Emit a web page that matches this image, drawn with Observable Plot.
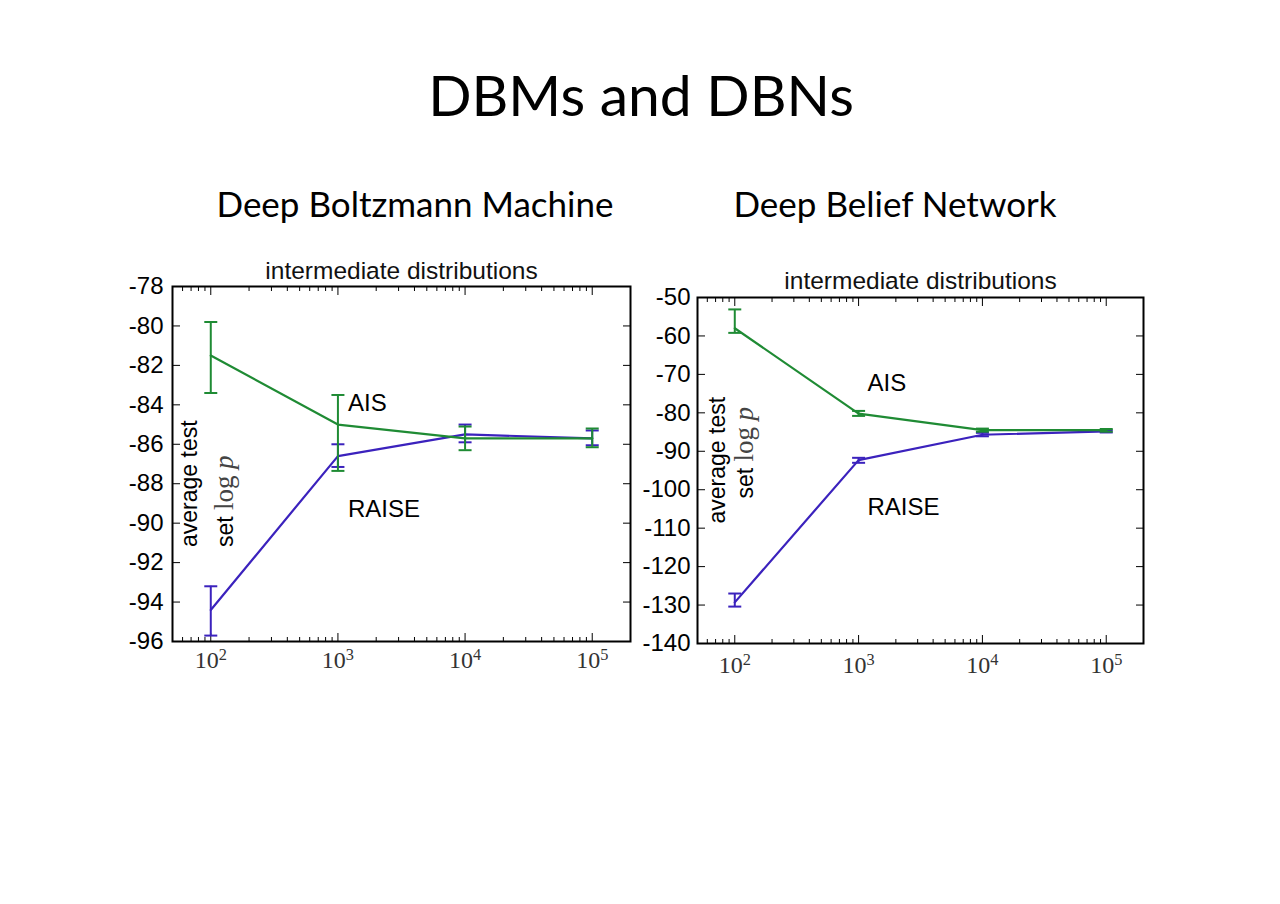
<!DOCTYPE html>
<html><head><meta charset="utf-8">
<script src="https://cdn.jsdelivr.net/npm/d3@7"></script>
<script src="https://cdn.jsdelivr.net/npm/@observablehq/plot@0.6"></script>
<style>
html,body{margin:0;padding:0;background:#fff;}
#page{position:relative;width:1280px;height:904px;overflow:hidden;background:#fff;}
.t{position:absolute;font-family:Lato,"Open Sans",sans-serif;color:#000;white-space:nowrap;transform:translateX(-50%);line-height:1;}
.chart{position:absolute;}
</style></head><body>
<div id="page">
  <div class="t" style="left:641px;top:66px;font-size:57px;">DBMs and DBNs</div>
  <div class="t" style="left:415px;top:186px;font-size:35px;">Deep Boltzmann Machine</div>
  <div class="t" style="left:895px;top:186px;font-size:35px;">Deep Belief Network</div>
  <div class="chart" id="c1" style="left:100px;top:240px;"></div>
  <div class="chart" id="c2" style="left:630px;top:250px;"></div>
</div>
<script>
// ---------- data ----------
const xValues = [100, 1000, 10000, 100000];
const xTickLabels = ["10²", "10³", "10⁴", "10⁵"];
const seriesNames = ["AIS", "RAISE"];

// Deep Boltzmann Machine
const dbmAIS      = [-81.5, -85.0, -85.7, -85.7];
const dbmAISLo    = [-83.4, -87.35, -86.3, -86.15];
const dbmAISHi    = [-79.8, -83.5, -85.1, -85.2];
const dbmRAISE    = [-94.4, -86.6, -85.5, -85.7];
const dbmRAISELo  = [-95.7, -87.15, -85.9, -86.05];
const dbmRAISEHi  = [-93.2, -86.0, -85.0, -85.3];
const dbmYTicks   = [-78, -80, -82, -84, -86, -88, -90, -92, -94, -96];

// Deep Belief Network
const dbnAIS      = [-58.0, -80.2, -84.5, -84.5];
const dbnAISLo    = [-59.2, -80.8, -84.9, -84.9];
const dbnAISHi    = [-53.1, -79.5, -84.1, -84.2];
const dbnRAISE    = [-129.3, -92.3, -85.7, -84.8];
const dbnRAISELo  = [-130.4, -93.0, -86.1, -85.1];
const dbnRAISEHi  = [-127.0, -91.7, -85.2, -84.5];
const dbnYTicks   = [-50, -60, -70, -80, -90, -100, -110, -120, -130, -140];

const panelTitle = "intermediate distributions";
const yLabelLine1 = "average test";
const yLabelLine2 = "set log p";

const dbmLabels = [{text: "AIS", x: 1200, y: -83.9}, {text: "RAISE", x: 1200, y: -89.3}];
const dbnLabels = [{text: "AIS", x: 1180, y: -72.4}, {text: "RAISE", x: 1180, y: -104.7}];

const colors = {AIS: "#1f8b34", RAISE: "#3b22bd"};
const sans = "Liberation Sans, Arial, Helvetica, sans-serif";
const serif = "Liberation Serif, DejaVu Serif, serif";

function rows(mean, lo, hi, series) {
  return xValues.map((x, i) => ({x, mean: mean[i], lo: lo[i], hi: hi[i], series}));
}

const capSymbol = {
  draw(context, size) {
    const r = Math.sqrt(size / Math.PI);
    context.moveTo(-r, 0);
    context.lineTo(r, 0);
  }
};

function buildChart(cfg) {
  const minor = d3.scaleLog().domain(cfg.xDomain).ticks().filter(v => !xValues.includes(v));
  const fmtX = d => xTickLabels[xValues.indexOf(d)];
  const seriesMarks = [];
  for (const s of cfg.series) {
    const c = colors[s.name];
    seriesMarks.push(
      Plot.line(s.data, {x: "x", y: "mean", stroke: c, strokeWidth: 2.2}),
      Plot.ruleX(s.data, {x: "x", y1: "lo", y2: "hi", stroke: c, strokeWidth: 2}),
      Plot.dot(s.data, {x: "x", y: "lo", r: 6.5, symbol: capSymbol, stroke: c, strokeWidth: 2, fill: "none"}),
      Plot.dot(s.data, {x: "x", y: "hi", r: 6.5, symbol: capSymbol, stroke: c, strokeWidth: 2, fill: "none"})
    );
  }
  const svg = Plot.plot({
    width: cfg.width, height: cfg.height,
    marginLeft: cfg.ml, marginRight: cfg.mr, marginTop: cfg.mt, marginBottom: cfg.mb,
    style: {background: "transparent", overflow: "visible"},
    x: {type: "log", domain: cfg.xDomain, label: null},
    y: {domain: cfg.yDomain, label: null},
    marks: [
      // ticks (inward)
      Plot.axisX(xValues, {anchor: "bottom", tickSize: -8, tickFormat: () => "", label: null, stroke: "#000"}),
      Plot.axisX(xValues, {anchor: "top", tickSize: -8, tickFormat: () => "", label: null, stroke: "#000"}),
      Plot.axisX(minor, {anchor: "bottom", tickSize: -4, tickFormat: () => "", label: null, stroke: "#000"}),
      Plot.axisX(minor, {anchor: "top", tickSize: -4, tickFormat: () => "", label: null, stroke: "#000"}),
      Plot.axisY(cfg.yTicks, {anchor: "left", tickSize: -8, tickFormat: () => "", label: null, stroke: "#000"}),
      Plot.axisY(cfg.yTicks, {anchor: "right", tickSize: -8, tickFormat: () => "", label: null, stroke: "#000"}),
      // tick labels
      Plot.axisX(xValues, {anchor: "bottom", tickSize: 0, tickPadding: cfg.xPad, tickFormat: fmtX, label: null,
        fontSize: 24, fontFamily: serif, fill: "#333"}),
      Plot.axisY(cfg.yTicks, {anchor: "left", tickSize: 0, tickPadding: cfg.yPad, tickFormat: d => String(d), label: null,
        fontSize: 24, fontFamily: sans, fill: "#000"}),
      ...seriesMarks,
      Plot.frame({stroke: "#000", strokeWidth: 2}),
      // panel title
      Plot.text([panelTitle], {frameAnchor: "top", lineAnchor: "middle", dy: cfg.titleDy, text: d => d,
        fontSize: 24.5, fontFamily: sans, fill: "#111"}),
      // y label
      Plot.text([yLabelLine1], {frameAnchor: "left", lineAnchor: "middle", rotate: -90, textAnchor: "start", dx: cfg.yl1dx, dy: cfg.yl1dy,
        text: d => d, fontSize: 23, fontFamily: sans, fill: "#000"}),
      Plot.text([yLabelLine2], {frameAnchor: "left", lineAnchor: "middle", rotate: -90, textAnchor: "start", dx: cfg.yl2dx, dy: cfg.yl2dy,
        text: d => d, fontSize: 23, fontFamily: sans, fill: "#000"}),
      // series labels
      Plot.text(cfg.labels, {x: "x", y: "y", text: "text", textAnchor: "start", fontSize: 24, fontFamily: sans, fill: "#000"})
    ]
  });
  // superscripts in x tick labels; serif math in y label
  const sup = {"²": "2", "³": "3", "⁴": "4", "⁵": "5"};
  svg.querySelectorAll("text").forEach(t => {
    const s = t.textContent;
    const m = /^10([²³⁴⁵])$/.exec(s);
    if (m) {
      t.innerHTML = `10<tspan dy="-0.45em" font-size="0.68em">${sup[m[1]]}</tspan>`;
    } else if (s === yLabelLine2) {
      t.innerHTML = `set <tspan font-family="${serif}" font-size="27" fill="#444">log</tspan> <tspan font-family="${serif}" font-size="27" font-style="italic" fill="#444">p</tspan>`;
    }
  });
  return svg;
}

document.getElementById("c1").appendChild(buildChart({
  width: 560, height: 470, ml: 72, mr: 30, mt: 46, mb: 69,
  xDomain: [50, 2e5], yDomain: [-96, -78], yTicks: dbmYTicks,
  xPad: 9, yPad: 9, titleDy: -15,
  yl1dx: 17, yl1dy: 83, yl2dx: 53, yl2dy: 83,
  labels: dbmLabels,
  series: [
    {name: "RAISE", data: rows(dbmRAISE, dbmRAISELo, dbmRAISEHi, "RAISE")},
    {name: "AIS", data: rows(dbmAIS, dbmAISLo, dbmAISHi, "AIS")}
  ]
}));

document.getElementById("c2").appendChild(buildChart({
  width: 540, height: 450, ml: 67, mr: 27, mt: 47, mb: 57,
  xDomain: [50, 2e5], yDomain: [-140, -50], yTicks: dbnYTicks,
  xPad: 12, yPad: 7, titleDy: -16,
  yl1dx: 20, yl1dy: 53, yl2dx: 48, yl2dy: 28,
  labels: dbnLabels,
  series: [
    {name: "RAISE", data: rows(dbnRAISE, dbnRAISELo, dbnRAISEHi, "RAISE")},
    {name: "AIS", data: rows(dbnAIS, dbnAISLo, dbnAISHi, "AIS")}
  ]
}));
</script>
</body></html>
